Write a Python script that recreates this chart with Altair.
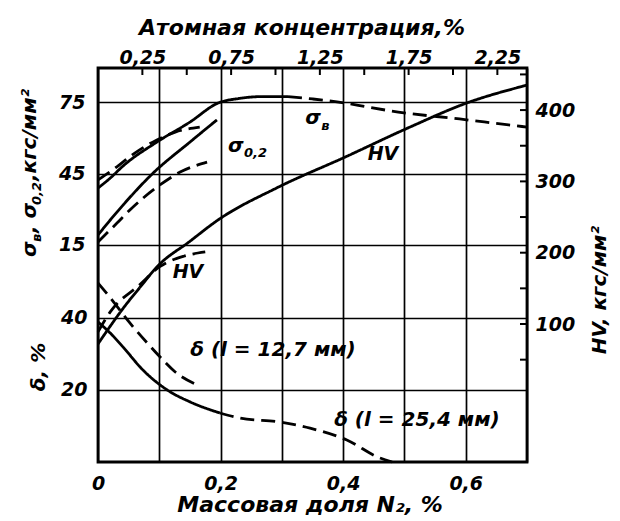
import altair as alt
import pandas as pd

# ---------------- data: mass fraction of N (%) -> property ----------------
# ultimate strength sigma_v, kgf/mm2 (solid part and its dashed continuation)
sv_n = [0, 0.02, 0.041, 0.096, 0.15, 0.196, 0.23, 0.27, 0.31]
sv_val = [38.9, 43.1, 48.2, 58.2, 66.6, 74.6, 76.5, 77.3, 77.3]
sv_ext_n = [0.31, 0.35, 0.403, 0.44, 0.49, 0.59, 0.67, 0.7]
sv_ext_val = [77.3, 76.3, 74.6, 72.9, 70.8, 67.9, 65.4, 64.5]
# sigma_v, second (dashed) series
sv2_n = [0, 0.028, 0.06, 0.096, 0.126, 0.166]
sv2_val = [42.3, 47.3, 53.6, 59.1, 62.4, 64.5]
# yield strength sigma_0.2, solid and dashed series
s02_n = [0, 0.02, 0.041, 0.09, 0.15, 0.194]
s02_val = [19.2, 25.5, 31.8, 45.2, 58.2, 67.5]
s02b_n = [0, 0.031, 0.052, 0.101, 0.134, 0.178]
s02b_val = [16.3, 24.2, 29.7, 40.2, 45.6, 49.8]
# hardness HV, kgf/mm2
hv_n = [0, 0.02, 0.041, 0.07, 0.096, 0.15, 0.196, 0.292, 0.403, 0.506, 0.602, 0.7]
hv_val = [72, 97, 122, 153, 180, 216, 246, 291, 334, 375, 410, 435]
hv2_n = [0, 0.02, 0.068, 0.1, 0.14, 0.175]
hv2_val = [89, 117, 155, 180, 195, 201]
# elongation delta, %, gauge length 12.7 mm and 25.4 mm
d12_n = [0, 0.02, 0.052, 0.08, 0.101, 0.126, 0.166]
d12_val = [49.7, 45.6, 38.6, 33.1, 29.2, 25.0, 21.1]
d25_n = [0, 0.02, 0.041, 0.073, 0.113, 0.15, 0.199]
d25_val = [38.9, 35.8, 31.9, 25.6, 20.0, 16.7, 13.6]
d25_ext_n = [0.199, 0.232, 0.297, 0.346, 0.406, 0.46, 0.48]
d25_ext_val = [13.6, 12.2, 11.1, 9.4, 6.1, 1.1, 0.0]

# axis values
n_grid = [0, 0.1, 0.2, 0.3, 0.4, 0.5, 0.6, 0.7]
at_labels = [0.25, 0.75, 1.25, 1.75, 2.25]
at_ticks = [0.25, 0.5, 0.75, 1.0, 1.25, 1.5, 1.75, 2.0, 2.25]
sig_ticks = [15, 45, 75]
del_ticks = [20, 40]
hv_labels = [100, 200, 300, 400]
hv_minor = [50, 100, 150, 200, 250, 300, 350, 400, 450]

# ---------------- styling ----------------
W, H = 429, 394
FONT = "DejaVu Sans"
TXT = dict(font=FONT, fontStyle="italic", fontWeight="bold", color="black")

N_SCALE = alt.Scale(domain=[0, 0.7], nice=False, zero=False)
AT_SCALE = alt.Scale(domain=[0, 2.417], nice=False, zero=False)
SIG_SCALE = alt.Scale(domain=[-76.1, 89.3], nice=False, zero=False)
DEL_SCALE = alt.Scale(domain=[0, 109.4], nice=False, zero=False)
HV_SCALE = alt.Scale(domain=[-93.5, 459], nice=False, zero=False)
DASH = alt.Scale(domain=["solid", "dashed"], range=[[1, 0], [14, 7]])


def table(*series):
    rows = []
    for name, style, xs, ys in series:
        rows += [{"series": name, "style": style, "n": a, "v": b} for a, b in zip(xs, ys)]
    return pd.DataFrame(rows)


def curves(df, scale, y_axis, x_axis=None):
    return alt.Chart(df).mark_line(
        color="black", strokeWidth=2.8, interpolate="monotone"
    ).encode(
        x=alt.X("n:Q", scale=N_SCALE, axis=x_axis),
        y=alt.Y("v:Q", scale=scale, axis=y_axis),
        detail="series:N",
        strokeDash=alt.StrokeDash("style:N", scale=DASH, legend=None),
    )


def label(text, n, v, scale, size=19, align="center", baseline="middle", dx=0, dy=0):
    return alt.Chart(pd.DataFrame({"n": [n], "v": [v]})).mark_text(
        text=text, fontSize=size, align=align, baseline=baseline, dx=dx, dy=dy, **TXT
    ).encode(
        x=alt.X("n:Q", scale=N_SCALE, axis=None),
        y=alt.Y("v:Q", scale=scale, axis=None),
    )


ONE = pd.DataFrame({"k": [0]})


def note(text, x, y, size=20, angle=0, align="center", baseline="middle", dx=0, dy=0):
    return alt.Chart(ONE).mark_text(
        text=text, fontSize=size, angle=angle, align=align, baseline=baseline,
        dx=dx, dy=dy, **TXT
    ).encode(x=alt.value(x), y=alt.value(y))


# ---------------- axes ----------------
n_axis = alt.Axis(
    orient="bottom", values=n_grid, grid=True, labelPadding=12, title=None,
    labelExpr="round(datum.value*10) % 2 == 0 ? replace(format(datum.value, '.1~f'), '.', ',') : ''",
)
sig_axis = alt.Axis(orient="left", values=sig_ticks, grid=True, labelPadding=13, title=None)
del_axis = alt.Axis(orient="left", values=del_ticks, grid=True, labelPadding=11, title=None)
hv_axis = alt.Axis(orient="right", values=hv_labels, grid=False, labelPadding=8, title=None)
at_axis = alt.Axis(
    orient="top", values=at_labels, grid=False, labelPadding=1, title=None,
    labelExpr="replace(format(datum.value, '.2f'), '.', ',')",
)

# ---------------- layers ----------------
sigma = curves(
    table(
        ("sv", "solid", sv_n, sv_val),
        ("sv_ext", "dashed", sv_ext_n, sv_ext_val),
        ("sv2", "dashed", sv2_n, sv2_val),
        ("s02", "solid", s02_n, s02_val),
        ("s02b", "dashed", s02b_n, s02b_val),
    ),
    SIG_SCALE, sig_axis, n_axis,
)
delta = curves(
    table(
        ("d12", "dashed", d12_n, d12_val),
        ("d25", "solid", d25_n, d25_val),
        ("d25_ext", "dashed", d25_ext_n, d25_ext_val),
    ),
    DEL_SCALE, del_axis,
)
hardness = curves(
    table(
        ("hv", "solid", hv_n, hv_val),
        ("hv2", "dashed", hv2_n, hv2_val),
    ),
    HV_SCALE, hv_axis,
)

# atomic concentration scale along the top edge, ticks pointing inward
top_ticks = alt.Chart(pd.DataFrame({"at": at_ticks})).mark_rule(
    color="black", strokeWidth=2
).encode(
    x=alt.X("at:Q", scale=AT_SCALE, axis=at_axis),
    y=alt.value(0), y2=alt.value(7),
)
# short inward ticks of the hardness scale on the right edge
hv_ticks = alt.Chart(pd.DataFrame({"hv": hv_minor})).mark_rule(
    color="black", strokeWidth=2
).encode(
    y=alt.Y("hv:Q", scale=HV_SCALE, axis=None),
    x=alt.value(W - 7), x2=alt.value(W),
)

curve_labels = [
    label("σ", 0.2121, 54.0, SIG_SCALE, size=20, align="left", baseline="alphabetic"),
    label("0,2", 0.2121, 54.0, SIG_SCALE, size=13, align="left", baseline="alphabetic", dx=16, dy=5),
    label("σ", 0.338, 65.8, SIG_SCALE, size=20, align="left", baseline="alphabetic"),
    label("в", 0.338, 65.8, SIG_SCALE, size=13, align="left", baseline="alphabetic", dx=16, dy=6),
    label("HV", 0.465, 338.4, HV_SCALE, size=19),
    label("HV", 0.1468, 172.9, HV_SCALE, size=19),
    label("δ (l = 12,7 мм)", 0.2855, 31.1, DEL_SCALE, size=20),
    label("δ (l = 25,4 мм)", 0.5204, 11.7, DEL_SCALE, size=20),
]

# axis titles
sig_title_parts = [
    ("σ", 20, 0, 0), ("в", 13, 5, 15), (", σ", 20, 0, 24),
    ("0,2", 13, 5, 52), (",кгс/мм²", 20, 0, 76),
]
titles = [
    note("Атомная концентрация,%", 204, -40, size=22),
    note("Массовая доля N₂, %", 212, 437, size=22),
    note("δ, %", -53, 299, size=20, angle=270, baseline="alphabetic"),
    note("HV, кгс/мм²", 508, 222, size=20, angle=270, baseline="alphabetic"),
] + [
    note(t, -62, 189, size=s, angle=270, align="left", baseline="alphabetic", dx=off, dy=sh)
    for t, s, sh, off in sig_title_parts
]

chart = alt.layer(
    sigma, delta, hardness, top_ticks, hv_ticks, *curve_labels, *titles
).resolve_scale(
    x="independent", y="independent"
).properties(
    width=W, height=H,
    padding={"left": 98, "top": 68, "right": 93, "bottom": 59},
    autosize=alt.AutoSizeParams(type="none"),
    background="white",
).configure_view(
    stroke="black", strokeWidth=2.8
).configure_axis(
    domain=False, ticks=False, tickSize=0,
    labelFont=FONT, labelFontSize=19, labelFontStyle="italic", labelFontWeight="bold",
    labelColor="black", labelFlush=False, labelOverlap=False,
    gridColor="black", gridWidth=1.7, gridOpacity=1,
)

chart.save("out.html", embed_options={"renderer": "svg", "actions": False})
